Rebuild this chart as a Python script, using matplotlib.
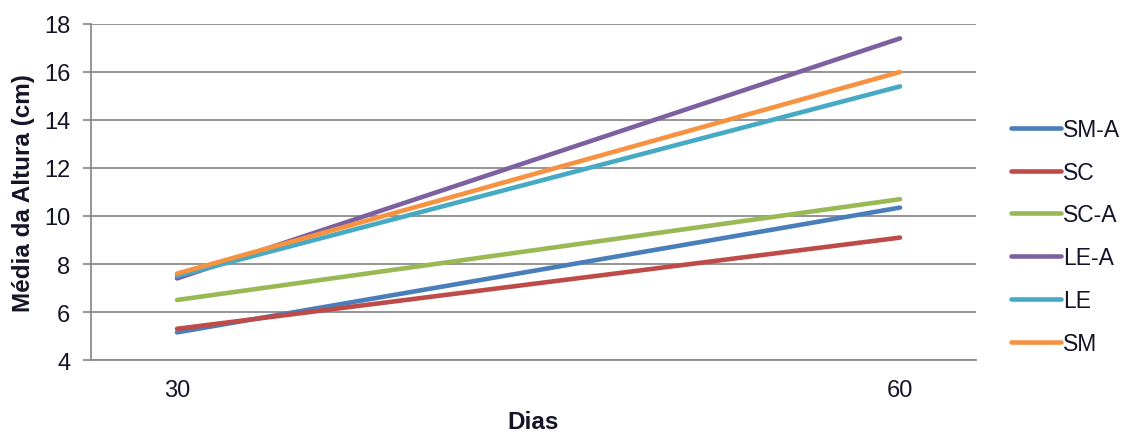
import matplotlib
matplotlib.use("Agg")
import matplotlib.pyplot as plt

plt.rcParams['font.family'] = ['Liberation Sans', 'DejaVu Sans']

dias = ["30", "60"]
series_names = ["SM-A", "SC", "SC-A", "LE-A", "LE", "SM"]
sm_a = [5.15, 10.35]
sc = [5.3, 9.1]
sc_a = [6.5, 10.7]
le_a = [7.4, 17.4]
le = [7.5, 15.4]
sm = [7.6, 16.0]
colors = ["#4A7EBB", "#BE4B48", "#98B954", "#7D60A0", "#46AAC5", "#F69240"]
y_ticks = [4, 6, 8, 10, 12, 14, 16, 18]
text_color = "#141428"

fig = plt.figure(figsize=(11.29, 4.35), dpi=100)
ax = fig.add_axes([91 / 1129, 1 - 361 / 435, (976 - 91) / 1129, (361 - 25) / 435])

x = list(range(len(dias)))
for name, vals, c in zip(series_names, [sm_a, sc, sc_a, le_a, le, sm], colors):
    ax.plot(x, vals, color=c, lw=3.3, solid_capstyle='round', label=name, zorder=3)

ax.set_ylim(4, 18)
ax.set_yticks(y_ticks)
ax.set_xlim(-86 / 723, 1 + 76 / 723)
ax.set_xticks(x)
ax.set_xticklabels(dias)

ax.grid(axis='y', color='#8C8C8C', lw=1.3, zorder=1)
for s in ['top', 'right']:
    ax.spines[s].set_visible(False)
ax.spines['left'].set_color('#8C8C8C')
ax.spines['left'].set_linewidth(1.3)
ax.spines['bottom'].set_color('#8C8C8C')
ax.spines['bottom'].set_linewidth(1.3)

ax.tick_params(axis='y', length=6, width=1.3, color='#8C8C8C', labelsize=17, pad=9, labelcolor=text_color)
ax.tick_params(axis='x', length=0, labelsize=17, pad=14, labelcolor=text_color)

ax.set_ylabel("Média da Altura (cm)", fontsize=17.5, fontweight='bold', labelpad=6, color=text_color)
ax.set_xlabel("Dias", fontsize=17.5, fontweight='bold', labelpad=6, color=text_color)

leg = fig.legend(loc='upper left', bbox_to_anchor=(1011 / 1129, 1 - 119 / 435),
                 frameon=False, fontsize=16.5, handlelength=2.2, handletextpad=0.08,
                 labelspacing=0.86, borderaxespad=0, borderpad=0)
for t in leg.get_texts():
    t.set_color(text_color)

fig.savefig("out.png", dpi=100)
